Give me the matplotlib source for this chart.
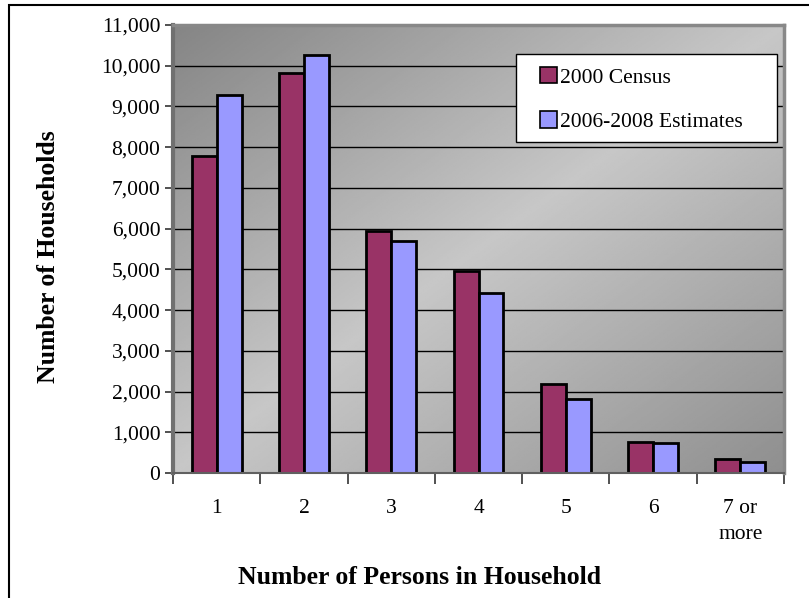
import numpy as np
import matplotlib.pyplot as plt
from matplotlib.patches import Rectangle

# Household size counts
categories = ["1", "2", "3", "4", "5", "6", "7 or\nmore"]
census_2000 = [7790, 9830, 5950, 4950, 2180, 760, 340]
estimates_0608 = [9290, 10270, 5690, 4410, 1810, 735, 270]

plt.rcParams['font.family'] = ['Liberation Serif', 'DejaVu Serif']

W, H = 809, 598
fig = plt.figure(figsize=(W / 100, H / 100), dpi=100)
left, right, top, bottom = 173, 784, 25, 473
aw, ah = right - left, bottom - top
ax = fig.add_axes([left / W, 1 - bottom / H, aw / W, ah / H])


def ax_xy(px, py):
    # pixel position -> axes fraction
    return (px - left) / aw, (bottom - py) / ah


# outer chart border (right and bottom edges run off the canvas)
fig.patches.append(Rectangle((9 / W, -0.02), 1.0, 1 - 5 / H + 0.02,
                             transform=fig.transFigure, fill=False,
                             edgecolor='black', linewidth=1.5))

x = np.arange(len(categories))
w = 0.286
ax.set_xlim(-0.5, len(categories) - 0.5)
ax.set_ylim(0, 11000)

# diagonal gradient background
gx, gy = np.meshgrid(np.linspace(0, 1, 300), np.linspace(0, 1, 300))
t = (gx + gy) / 2
shade = np.where(t < 0.5, 0.52 + (0.78 - 0.52) * t / 0.5,
                 0.78 - (0.78 - 0.56) * (t - 0.5) / 0.5)
ax.imshow(shade, cmap='gray', vmin=0, vmax=1, aspect='auto',
          extent=[-0.5, len(categories) - 0.5, 0, 11000], origin='upper',
          zorder=0)

for yv in range(1000, 11001, 1000):
    ax.axhline(yv, color='black', linewidth=1.0, zorder=1)

ax.bar(x - w / 2, census_2000, w, color='#993366', edgecolor='black',
       linewidth=2, label='2000 Census', zorder=2)
ax.bar(x + w / 2, estimates_0608, w, color='#9999ff', edgecolor='black',
       linewidth=2, label='2006-2008 Estimates', zorder=2)

ax.set_yticks(range(0, 11001, 1000))
ax.set_yticklabels([f"{v:,}" for v in range(0, 11001, 1000)], fontsize=15.5)
ax.set_xticks(x)
ax.set_xticklabels(categories, fontsize=15.5, linespacing=1.5, va='top')
ax.set_xticks(np.arange(-0.5, len(categories)), minor=True)
ax.tick_params(axis='x', which='major', length=0, pad=19)
ax.tick_params(axis='x', which='minor', length=8, color='#333333', width=1.2)
ax.tick_params(axis='y', length=6, color='#333333', width=1.2, pad=3)

for side in ['top', 'right']:
    ax.spines[side].set_color('#888888')
    ax.spines[side].set_linewidth(2.5)
ax.spines['left'].set_color('#707070')
ax.spines['left'].set_linewidth(3)
ax.spines['bottom'].set_color('#606060')
ax.spines['bottom'].set_linewidth(1.5)

ax.set_ylabel("Number of Households", fontsize=18.5, fontweight='bold')
ax.yaxis.set_label_coords(*ax_xy(60, 257))
fig.text(420 / W, 1 - 578 / H, "Number of Persons in Household",
         fontsize=18.5, fontweight='bold', ha='center', va='center')

# legend: white box drawn separately, entries placed inside it
x0, y0 = ax_xy(516, 142)
x1, y1 = ax_xy(777, 54)
ax.add_patch(Rectangle((x0, y0), x1 - x0, y1 - y0, transform=ax.transAxes,
                       facecolor='white', edgecolor='black', linewidth=1.0,
                       zorder=3))
leg = ax.legend(loc='center left', bbox_to_anchor=ax_xy(540, 99.5),
                fontsize=15.5, frameon=False, handlelength=0.8,
                handleheight=0.8, handletextpad=0.15, labelspacing=1.1,
                borderpad=0, borderaxespad=0)
leg.set_zorder(4)
for h in leg.legend_handles:
    h.set_linewidth(1.2)

fig.savefig("out.png", dpi=100)
